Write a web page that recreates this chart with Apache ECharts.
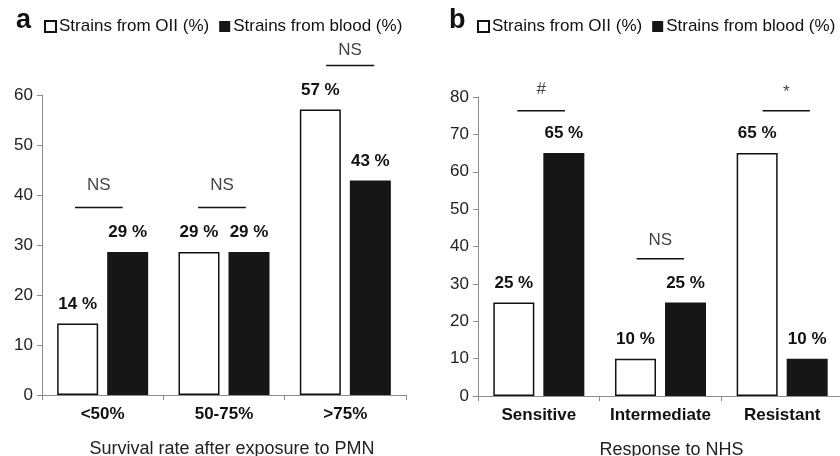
<!DOCTYPE html>
<html><head><meta charset="utf-8">
<script src="https://cdn.jsdelivr.net/npm/echarts@6/dist/echarts.min.js"></script>
<style>html,body{margin:0;padding:0;background:#fff}#c{width:840px;height:456px}</style>
</head><body><div id="c"></div>
<script>
// ---- data ----
const seriesNames = ['Strains from OII (%)', 'Strains from blood (%)'];
const catsA = ['<50%', '50-75%', '>75%'];
const oiiA = [14.3, 28.6, 57.1];
const bloodA = [28.6, 28.6, 42.9];
const catsB = ['Sensitive', 'Intermediate', 'Resistant'];
const oiiB = [25, 10, 65];
const bloodB = [65, 25, 10];
const yTicksA = [0, 60, 10];
const yTicksB = [0, 80, 10];
const titleA = 'Survival rate after exposure to PMN';
const titleB = 'Response to NHS';
// significance marks: text, bracket start/end (category units), bracket y, text y
const annTextA = ['NS', 'NS', 'NS'];
const annX0A = [0.272, 1.286, 2.341];
const annX1A = [0.665, 1.680, 2.737];
const annYA = [37.5, 37.5, 65.9];
const annTYA = [41.9, 41.9, 69.0];
const annTextB = ['#', 'NS', '*'];
const annX0B = [0.323, 1.304, 2.339];
const annX1B = [0.715, 1.693, 2.728];
const annYB = [76.3, 36.7, 76.3];
const annTYB = [82.1, 41.6, 81.2];

const FONT = 'Liberation Sans, Arial, Helvetica, sans-serif';
const AX = '#8c8c8c';
const chart = echarts.init(document.getElementById('c'), null, {renderer: 'canvas'});

function yAxis(g, t) {
  return {type: 'value', gridIndex: g, min: t[0], max: t[1], interval: t[2],
    axisLine: {show: true, lineStyle: {color: AX, width: 1}},
    axisTick: {show: true, length: 5, lineStyle: {color: AX}},
    splitLine: {show: false},
    axisLabel: {color: '#222', fontSize: 17, fontFamily: FONT, margin: 9}};
}
function xAxis(g, cats, name, pad) {
  return {type: 'category', gridIndex: g, data: cats,
    axisLine: {show: true, lineStyle: {color: AX, width: 1}},
    axisTick: {show: true, length: 5, lineStyle: {color: AX}},
    axisLabel: {color: '#111', fontSize: 17, fontWeight: 'bold', fontFamily: FONT, margin: 11,
      interval: 0, hideOverlap: false},
    name: name, nameLocation: 'middle', nameGap: 45,
    nameTextStyle: {color: '#222', fontSize: 18, fontFamily: FONT, padding: [0, 0, 0, pad]}};
}
function hiddenX(g) {
  return {type: 'value', gridIndex: g, min: 0, max: 3, show: false};
}
const lbl = {show: true, position: 'top', distance: 11, fontSize: 17, fontWeight: 'bold',
  color: '#111', fontFamily: FONT, formatter: p => Math.round(p.value) + ' %'};
function bars(xi, yi, oii, blood) {
  return [
    {type: 'bar', name: seriesNames[0], xAxisIndex: xi, yAxisIndex: yi, data: oii,
     barWidth: 41, barGap: '22%',
     itemStyle: {color: '#fff', borderColor: '#111', borderWidth: 1.5}, label: lbl},
    {type: 'bar', name: seriesNames[1], xAxisIndex: xi, yAxisIndex: yi, data: blood,
     barWidth: 41, barGap: '22%',
     itemStyle: {color: '#161616'}, label: lbl}
  ];
}
function anns(xi, yi, texts, x0, x1, y, ty) {
  const out = [];
  texts.forEach((t, i) => {
    out.push({type: 'line', xAxisIndex: xi, yAxisIndex: yi, clip: false, silent: true,
      symbol: 'none', lineStyle: {color: '#111', width: 1.5},
      data: [[x0[i], y[i]], [x1[i], y[i]]]});
    out.push({type: 'scatter', xAxisIndex: xi, yAxisIndex: yi, clip: false, silent: true,
      symbolSize: 0, data: [[(x0[i] + x1[i]) / 2, ty[i]]],
      label: {show: true, position: 'inside', formatter: t, color: '#111',
        fontSize: 17, fontFamily: FONT}});
  });
  return out;
}

const option = {
  animation: false,
  backgroundColor: '#fff',
  title: [
    {text: 'a', left: 11, top: 2, textStyle: {fontSize: 27, fontWeight: 'bold', color: '#111', fontFamily: FONT}},
    {text: 'b', left: 444, top: 2, textStyle: {fontSize: 27, fontWeight: 'bold', color: '#111', fontFamily: FONT}}
  ],
  legend: [
    {left: 39, top: 13, width: 400, itemWidth: 11, itemHeight: 11, itemGap: 10, icon: 'rect',
     data: seriesNames, textStyle: {fontSize: 17, color: '#111', fontFamily: FONT, padding: [0, 0, 0, -2]}},
    {left: 472, top: 13, width: 400, itemWidth: 11, itemHeight: 11, itemGap: 10, icon: 'rect',
     data: seriesNames, textStyle: {fontSize: 17, color: '#111', fontFamily: FONT, padding: [0, 0, 0, -2]}}
  ],
  grid: [
    {left: 42, right: 434, top: 95, bottom: 61, containLabel: false, outerBoundsMode: 'none'},
    {left: 478, right: -3, top: 97, bottom: 60, containLabel: false, outerBoundsMode: 'none'}
  ],
  xAxis: [xAxis(0, catsA, titleA, 16), xAxis(1, catsB, titleB, 22), hiddenX(0), hiddenX(1)],
  yAxis: [yAxis(0, yTicksA), yAxis(1, yTicksB)],
  series: [].concat(
    bars(0, 0, oiiA, bloodA),
    bars(1, 1, oiiB, bloodB),
    anns(2, 0, annTextA, annX0A, annX1A, annYA, annTYA),
    anns(3, 1, annTextB, annX0B, annX1B, annYB, annTYB)
  )
};
chart.setOption(option);
</script></body></html>
